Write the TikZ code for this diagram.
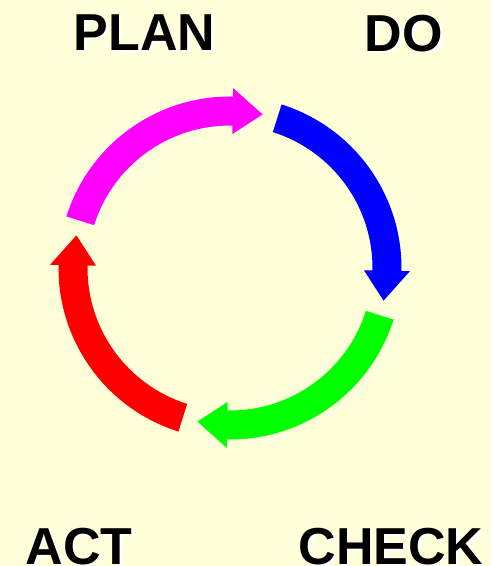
\documentclass[tikz,border=0pt]{standalone}
\usepackage{fontspec}
\setmainfont{Liberation Sans}
\usetikzlibrary{positioning}
\definecolor{pdcabg}{RGB}{255,255,217}
\definecolor{pdcablue}{RGB}{0,0,255}
\definecolor{pdcagreen}{RGB}{0,255,0}
\definecolor{pdcared}{RGB}{255,0,0}
\definecolor{pdcamagenta}{RGB}{255,0,255}
\tikzset{
    phase/.style={font=\fontsize{52}{60}\selectfont\bfseries, text=black, inner sep=0pt},
    phaseshadow/.style={font=\fontsize{52}{60}\selectfont\bfseries, text=white, inner sep=0pt}
}

\begin{document}
\begin{tikzpicture}[x=1pt, y=1pt]
    % background, same size as the reference
    \fill[pdcabg] (-230,268) rectangle (261,-298);
    \useasboundingbox (-230,268) rectangle (261,-298);
    % four arc arrows round the centre
    \foreach \ang/\col in {0/pdcablue, -90/pdcagreen, -180/pdcared, 90/pdcamagenta}{
      \begin{scope}[rotate=\ang]
        \fill[\col] (72.5:171.5) arc[start angle=72.5, end angle=-1, radius=171.5]
          -- (-1:180) -- (-12:157) -- (-1:134) -- (-1:142.5)
          arc[start angle=-1, end angle=72.5, radius=142.5] -- cycle;
      \end{scope}
    }
    % labels
    \node[phaseshadow] (plan-s) at (-83,233) {PLAN};
    \node[phaseshadow] (do-s) at (176.5,232) {DO};
    \node[phaseshadow] (act-s) at (-148.5,-280.5) {ACT};
    \node[phaseshadow] (check-s) at (163.5,-280.5) {CHECK};
    \node[phase] (plan) at (-85.5,235) {PLAN};
    \node[phase] (do) at (174,234) {DO};
    \node[phase] (act) at (-151,-278.5) {ACT};
    \node[phase] (check) at (161,-278.5) {CHECK};
\end{tikzpicture}
\end{document}
